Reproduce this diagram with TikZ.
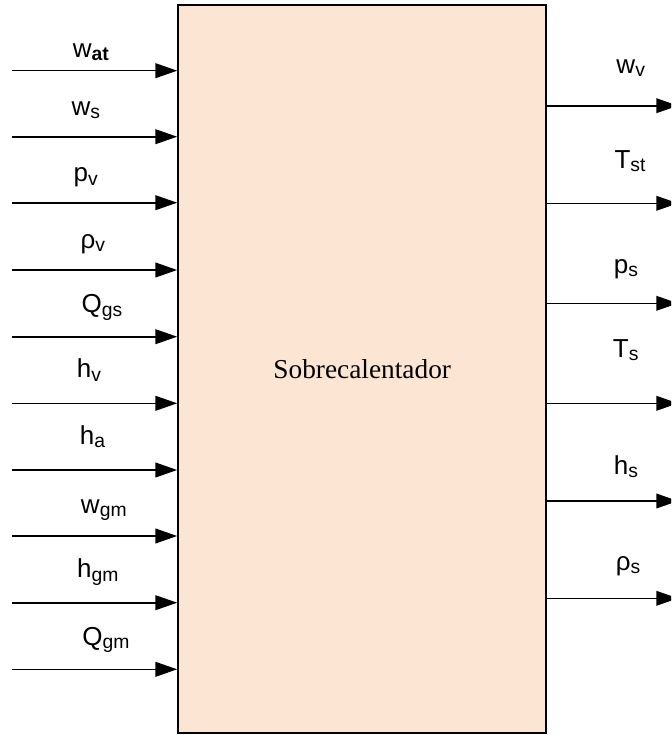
\documentclass[tikz,border=0pt]{standalone}
\usepackage{fontspec}
\setmainfont{Liberation Serif}
\newfontfamily\lblfont{Liberation Sans}
\usetikzlibrary{arrows.meta}
\definecolor{scPeach}{RGB}{253,229,211}
\newcommand{\lsub}[1]{\raisebox{-2.5pt}{\fontsize{14.5}{15}\selectfont #1}}

\begin{document}
\begin{tikzpicture}[x=0.75pt,y=-0.75pt,
  blockbox/.style={draw=black,line width=1.7pt,fill=scPeach,inner sep=0pt,
                   minimum width=275.8pt,minimum height=546.2pt,
                   font=\fontsize{20.5}{24}\selectfont},
  sig/.style={line width=1.2pt,-{Triangle[length=16.3pt,width=11pt]}},
  lbl/.style={anchor=base,inner sep=0pt,font=\lblfont\fontsize{19.5}{22}\selectfont}
]
\useasboundingbox (0,0) rectangle (671,735);
\clip (0,0) rectangle (671,735);
% Main block
\node[blockbox] (sc) at (362.2,369.2) {Sobrecalentador};
% Inputs (left side)
\coordinate (i1)  at (12,70.7);
\coordinate (i2)  at (12,136.7);
\coordinate (i3)  at (12,202.7);
\coordinate (i4)  at (12,270);
\coordinate (i5)  at (12,336.7);
\coordinate (i6)  at (12,403.3);
\coordinate (i7)  at (12,470);
\coordinate (i8)  at (12,536);
\coordinate (i9)  at (12,602.7);
\coordinate (i10) at (12,669.3);
\foreach \c in {i1,i2,i3,i4,i5,i6,i7,i8,i9,i10}
  \draw[sig] (\c) -- (\c -| sc.west);
\node[lbl] (Lwat) at (90.8,57.3)  {w\lsub{\bfseries at}};
\node[lbl] (Lws)  at (85.8,115)   {w\lsub{s}};
\node[lbl] (Lpv)  at (85.8,181.7) {p\lsub{v}};
\node[lbl] (Lrv)  at (92.8,248)   {ρ\lsub{v}};
\node[lbl] (Lqgs) at (102,312.7)  {Q\lsub{gs}};
\node[lbl] (Lhv)  at (89,377.7)   {h\lsub{v}};
\node[lbl] (Lha)  at (92.5,444.3) {h\lsub{a}};
\node[lbl] (Lwgm) at (103.8,513.3){w\lsub{gm}};
\node[lbl] (Lhgm) at (97.8,577.7) {h\lsub{gm}};
\node[lbl] (Lqgm) at (106,645)    {Q\lsub{gm}};
% Outputs (right side)
\coordinate (o1) at (678,105.7);
\coordinate (o2) at (678,203.3);
\coordinate (o3) at (678,303.3);
\coordinate (o4) at (678,403.3);
\coordinate (o5) at (678,501);
\coordinate (o6) at (678,598.3);
\foreach \c in {o1,o2,o3,o4,o5,o6}
  \draw[sig] (sc.east |- \c) -- (\c);
\node[lbl] (Rwv)  at (630.7,73.3) {w\lsub{v}};
\node[lbl] (Rtst) at (630,168.3)  {T\lsub{st}};
\node[lbl] (Rps)  at (626,273.3)  {p\lsub{s}};
\node[lbl] (Rts)  at (625.7,357.3){T\lsub{s}};
\node[lbl] (Rhs)  at (626,474.3)  {h\lsub{s}};
\node[lbl] (Rrs)  at (628,570)    {ρ\lsub{s}};
\end{tikzpicture}
\end{document}
